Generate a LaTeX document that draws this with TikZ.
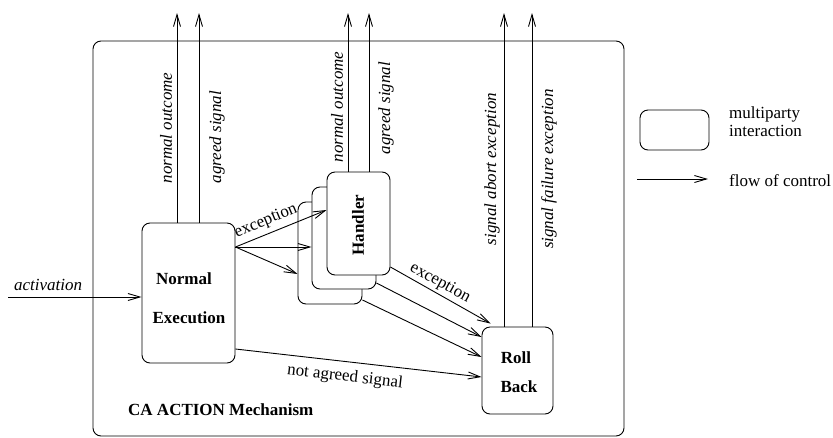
\documentclass[tikz,border=0pt]{standalone}
\usepackage{fontspec}
\setmainfont{Liberation Serif}
\usetikzlibrary{arrows.meta}
\begin{document}
\begin{tikzpicture}[x=1pt,y=-1pt,
  every node/.style={font=\fontsize{17}{18}\selectfont, inner sep=0pt},
  box/.style={draw, line width=0.9pt, rounded corners=8pt, fill=white},
  arr/.style={line width=0.9pt, -{Straight Barb[length=12pt,width=7pt,line width=0.9pt]}},
  lbl/.style={font=\fontsize{17}{18}\selectfont\itshape},
  bold/.style={font=\fontsize{17}{18}\selectfont\bfseries}]
\useasboundingbox (0,0) rectangle (833,437);
% frame
\node[box, minimum width=531pt, minimum height=395pt, fill=none] (frame) at (358.5,238.5) {};
\node[bold, anchor=west] (title) at (128,410) {CA ACTION Mechanism};
% boxes
\node[box, minimum width=93pt, minimum height=140pt] (ne) at (188.5,293) {};
\node[bold] (ne1) at (184,279) {Normal};
\node[bold] (ne2) at (189,318) {Execution};
\node[box, minimum width=64pt, minimum height=102pt] (h3) at (330,253) {};
\node[box, minimum width=64pt, minimum height=102pt] (h2) at (344,238) {};
\node[box, minimum width=63pt, minimum height=103pt] (h1) at (358.5,223.5) {};
\node[bold, rotate=90] (hl) at (358,225) {Handler};
\node[box, minimum width=71pt, minimum height=87pt] (rb) at (517.5,370.5) {};
\node[bold] (rb1) at (516,358) {Roll};
\node[bold] (rb2) at (519,387) {Back};
% activation
\coordinate (actstart) at (8,297);
\draw[arr] (actstart) -- (actstart -| ne.west);
\node[lbl] (actl) at (48,285) {activation};
% outgoing top arrows
\coordinate (no1) at (177,13);
\coordinate (ag1) at (199,13);
\coordinate (no2) at (348,13);
\coordinate (ag2) at (369,13);
\coordinate (sa) at (504,13);
\coordinate (sf) at (532,13);
\draw[arr] (no1 |- ne.north) -- (no1);
\draw[arr] (ag1 |- ne.north) -- (ag1);
\draw[arr] (no2 |- h1.north) -- (no2);
\draw[arr] (ag2 |- h1.north) -- (ag2);
\draw[arr] (sa |- rb.north) -- (sa);
\draw[arr] (sf |- rb.north) -- (sf);
\node[lbl, rotate=90] (l1) at (166,128) {normal outcome};
\node[lbl, rotate=90] (l2) at (217,137) {agreed signal};
\node[lbl, rotate=90] (l3) at (337,107) {normal outcome};
\node[lbl, rotate=90] (l4) at (386,108) {agreed signal};
\node[lbl, rotate=90] (l5) at (492,169) {signal abort exception};
\node[lbl, rotate=90] (l6) at (549,169) {signal failure exception};
% NE to handlers
\draw[arr] ([yshift=46pt]ne.east) -- ([yshift=13.5pt]h1.west);
\draw[arr] ([yshift=46pt]ne.east) -- ([yshift=-9pt]h2.west);
\draw[arr] ([yshift=46pt]ne.east) -- ([yshift=-21pt]h3.west);
\node[rotate=22.6] (exc1) at (266,221) {exception};
% handlers to RB
\draw[arr] ([yshift=-43.5pt]h1.east) -- ([xshift=9pt,yshift=3pt]rb.north west);
\draw[arr] ([yshift=-45pt]h2.east) -- ([yshift=33.5pt]rb.west);
\draw[arr] ([yshift=-47pt]h3.east) -- ([yshift=13.5pt]rb.west);
\node[rotate=-28.5] (exc2) at (440,283) {exception};
% not agreed
\draw[arr] ([yshift=-56pt]ne.east) -- ([yshift=-6.5pt]rb.west);
\node[rotate=-6.5] (nas) at (345,377) {not agreed signal};
% legend
\node[box, minimum width=69pt, minimum height=40pt] (lgbox) at (674.5,130) {};
\node[anchor=west, align=left] (lgt1) at (729,122) {multiparty\\interaction};
\coordinate (lga) at (637,179);
\coordinate (lgb) at (708,179);
\draw[arr] (lga) -- (lgb);
\node[anchor=west] (lgt2) at (729,181) {flow of control};
\end{tikzpicture}
\end{document}
